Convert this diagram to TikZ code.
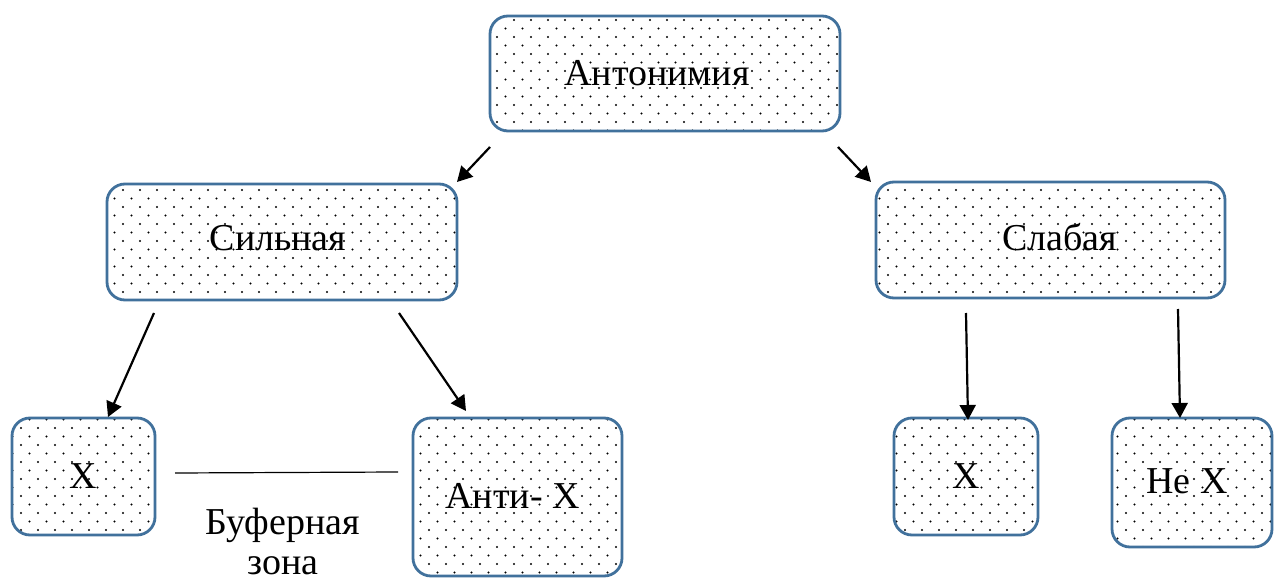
\documentclass[tikz,border=0pt]{standalone}
\usepackage{fontspec}
\setmainfont{Liberation Serif}
\usetikzlibrary{patterns,arrows.meta}
\pgfdeclarepatternformonly{stagdots}{\pgfqpoint{-2pt}{-2pt}}{\pgfqpoint{19pt}{19pt}}{\pgfqpoint{17pt}{17pt}}{%
  \pgfpathcircle{\pgfqpoint{4pt}{4pt}}{1.2pt}%
  \pgfpathcircle{\pgfqpoint{12.5pt}{12.5pt}}{1.2pt}%
  \pgfusepath{fill}}
\definecolor{boxblue}{RGB}{65,113,156}
\tikzset{
  box/.style={draw=boxblue, line width=2.8pt, rounded corners=18pt,
    pattern=stagdots, pattern color=black, rectangle, inner sep=0pt,
    font=\fontsize{38}{45}\selectfont},
  arr/.style={line width=2.2pt, -{Triangle[length=15pt,width=16pt]}},
  lbl/.style={font=\fontsize{38}{45}\selectfont, inner sep=0pt}
}
\begin{document}
\begin{tikzpicture}[x=1pt,y=-1pt]
\useasboundingbox[fill=white] (0,0) rectangle (1274,585);
\node[box, minimum width=350pt, minimum height=115pt] (top) at (665,73.5) {\raisebox{1pt}{\hspace*{-16pt}Антонимия}};
\node[box, minimum width=350pt, minimum height=116pt] (sil) at (282,242) {\raisebox{8pt}{\hspace*{-8pt}Сильная}};
\node[box, minimum width=349pt, minimum height=116pt] (sla) at (1050.5,240) {\raisebox{7pt}{\hspace*{18pt}Слабая}};
\node[box, minimum width=143pt, minimum height=117pt] (x1) at (83.5,476.5) {X};
\node[box, minimum width=209pt, minimum height=158pt] (anti) at (517.5,497) {\raisebox{2pt}{\hspace*{-10pt}Анти- X}};
\node[box, minimum width=144pt, minimum height=117pt] (x2) at (966,476.5) {X};
\node[box, minimum width=160pt, minimum height=129pt] (ne) at (1192,482.5) {\raisebox{2pt}{\hspace*{-10pt}Не X}};
\node[lbl] (buf) at (283,525) {Буферная};
\node[lbl] (zona) at (283,566) {зона};
\coordinate (a1s) at (490,147); \coordinate (a1e) at (457,182);
\coordinate (a2s) at (838,147); \coordinate (a2e) at (871,182);
\coordinate (a3s) at (154,313); \coordinate (a3e) at (108,417);
\coordinate (a4s) at (399,313); \coordinate (a4e) at (466,411);
\coordinate (a5s) at (966,313); \coordinate (a5e) at (968,420);
\coordinate (a6s) at (1178,309); \coordinate (a6e) at (1180,418);
\coordinate (ls) at (175,473); \coordinate (le) at (398,472);
\draw[arr] (a1s) -- (a1e);
\draw[arr] (a2s) -- (a2e);
\draw[arr] (a3s) -- (a3e);
\draw[arr] (a4s) -- (a4e);
\draw[arr] (a5s) -- (a5e);
\draw[arr] (a6s) -- (a6e);
\draw[line width=1.2pt] (ls) -- (le);
\end{tikzpicture}
\end{document}
